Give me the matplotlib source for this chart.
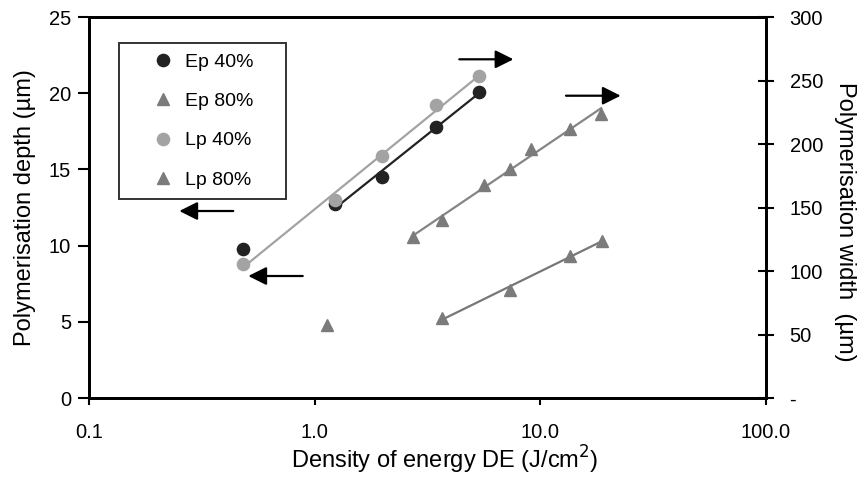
import numpy as np
import matplotlib
matplotlib.use("Agg")
import matplotlib.pyplot as plt
from matplotlib.lines import Line2D

plt.rcParams['font.family'] = ['Liberation Sans', 'DejaVu Sans']

# --- data ---
ep40_x = [0.48, 1.23, 1.98, 3.46, 5.35]
ep40_depth = [9.8, 12.7, 14.5, 17.8, 20.1]
lp40_x = [0.48, 1.23, 1.98, 3.46, 5.35]
lp40_depth = [8.8, 13.0, 15.9, 19.2, 21.1]
lp80_x = [2.74, 3.65, 5.62, 7.33, 9.06, 13.6, 18.6]
lp80_width = [127, 140, 168, 180, 196, 212, 224]
ep80_x = [1.13, 3.65, 7.33, 13.6, 18.7]
ep80_width = [57.5, 63, 85, 112, 124]

x_ticks = [0.1, 1.0, 10.0, 100.0]
x_ticklabels = ["0.1", "1.0", "10.0", "100.0"]
left_ticks = [0, 5, 10, 15, 20, 25]
right_ticks = [0, 50, 100, 150, 200, 250, 300]
right_ticklabels = ["-", "50", "100", "150", "200", "250", "300"]

BLACK = "#222222"
LGRAY = "#a3a3a3"
TRI = "#7b7b7b"
FS_TICK = 14.5
FS_LABEL = 17
FS_LEG = 14


def fit_line(ax, x, y, color, lw=1.6):
    # straight trend line on the log-x axis
    lx = np.log10(x)
    k, b = np.polyfit(lx, y, 1)
    xs = np.array([min(x), max(x)])
    ax.plot(xs, k * np.log10(xs) + b, color=color, lw=lw, zorder=2)


fig = plt.figure(figsize=(8.65, 4.79), dpi=100)
ax = fig.add_axes([0.1029, 0.1691, 0.7826, 0.7954])
ax2 = ax.twinx()

ax.set_xscale("log")
ax.set_xlim(0.1, 100)
ax.set_ylim(0, 25)
ax2.set_ylim(0, 300)

# depth series (left axis)
fit_line(ax, ep40_x[1:], ep40_depth[1:], BLACK)
ax.plot(ep40_x, ep40_depth, "o", color=BLACK, ms=8.8, zorder=3)
fit_line(ax, lp40_x, lp40_depth, LGRAY)
ax.plot(lp40_x, lp40_depth, "o", color=LGRAY, ms=8.8, zorder=4)

# width series (right axis)
fit_line(ax2, lp80_x, lp80_width, "#858585")
ax2.plot(lp80_x, lp80_width, "^", color=TRI, ms=9.2, zorder=3)
fit_line(ax2, ep80_x[1:], ep80_width[1:], "#777777")
ax2.plot(ep80_x, ep80_width, "^", color=TRI, ms=9.2, zorder=3)

# ticks and labels
ax.set_xticks(x_ticks)
ax.set_xticklabels(x_ticklabels)
ax.xaxis.set_minor_locator(matplotlib.ticker.NullLocator())
ax.set_yticks(left_ticks)
ax2.set_yticks(right_ticks)
ax2.set_yticklabels(right_ticklabels)

ax.tick_params(axis="x", direction="out", length=5, width=1.5, labelsize=FS_TICK, pad=13)
ax.tick_params(axis="y", direction="out", length=8, width=1.5, labelsize=FS_TICK, pad=5)
ax2.tick_params(axis="y", direction="inout", length=12, width=1.5, labelsize=FS_TICK, pad=11)

for a in (ax, ax2):
    for s in a.spines.values():
        s.set_linewidth(2.0)

ax.set_xlabel("Density of energy DE (J/cm$^2$)", fontsize=FS_LABEL, labelpad=1)
ax.xaxis.label.set_x(0.526)
ax.set_ylabel("Polymerisation depth (µm)", fontsize=FS_LABEL, labelpad=9)
ax2.set_ylabel("Polymerisation width  (µm)", fontsize=FS_LABEL, rotation=-90, labelpad=24)
ax2.yaxis.label.set_y(0.462)

# legend
handles = [
    Line2D([], [], ls="none", marker="o", color=BLACK, ms=8.8),
    Line2D([], [], ls="none", marker="^", color=TRI, ms=9.2),
    Line2D([], [], ls="none", marker="o", color=LGRAY, ms=8.8),
    Line2D([], [], ls="none", marker="^", color=TRI, ms=9.2),
]
labels = ["Ep 40%", "Ep 80%", "Lp 40%", "Lp 80%"]
leg = ax2.legend(handles, labels, loc="upper left",
                 bbox_to_anchor=(0.0443, 0.514, 0.2463, 0.417), mode="expand",
                 fontsize=FS_LEG, frameon=True, fancybox=False, edgecolor="black",
                 handlelength=3.5, handletextpad=-0.6, borderpad=0.5,
                 labelspacing=1.12, borderaxespad=0)
leg.get_frame().set_linewidth(1.4)

# direction arrows (which axis each group belongs to)
arrows = [
    ((0.547, 0.889), (0.627, 0.889)),
    ((0.7046, 0.7934), (0.7854, 0.7934)),
    ((0.2131, 0.4908), (0.1334, 0.4908)),
    ((0.3157, 0.3202), (0.2353, 0.3202)),
]
for tail, tip in arrows:
    ax2.annotate("", xy=tip, xytext=tail, xycoords="axes fraction",
                 textcoords="axes fraction",
                 arrowprops=dict(arrowstyle="-|>,head_length=1.1,head_width=0.55",
                                 color="black", lw=1.6, shrinkA=0, shrinkB=0))

fig.savefig("out.png", dpi=100)
